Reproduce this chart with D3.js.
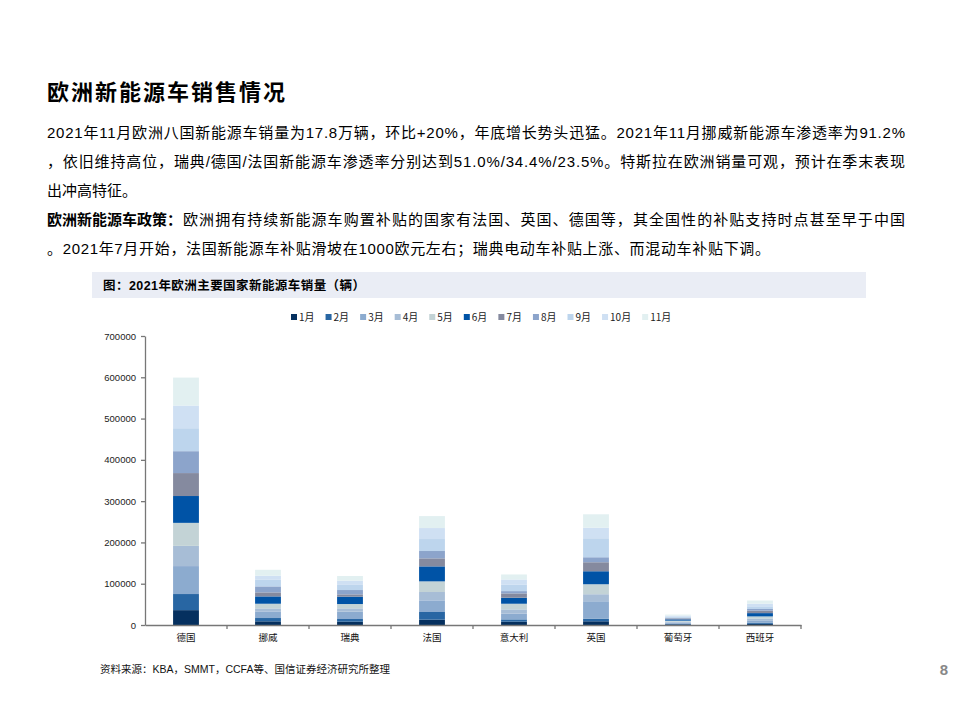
<!DOCTYPE html>
<html>
<head>
<meta charset="utf-8">
<script src="https://cdn.jsdelivr.net/npm/d3@7"></script>
<style>
  html, body { margin: 0; padding: 0; background: #fff; }
  svg { display: block; }
</style>
</head>
<body>
<div id="chart"></div>
<script>
// 国家（x 轴类目）
const countries = ['德国', '挪威', '瑞典', '法国', '意大利', '英国', '葡萄牙', '西班牙']
const months = ['1月', '2月', '3月', '4月', '5月', '6月', '7月', '8月', '9月', '10月', '11月']
const yTicks = [0, 100000, 200000, 300000, 400000, 500000, 600000, 700000]

// 每月销量（按国家顺序）
const m1  = [36000,  8900,  8000, 12900,  8000,  9000, 1600, 2800]
const m2  = [39000,  8000,  6500, 18600,  5600,  6500, 1400, 3000]
const m3  = [67700, 16000, 17800, 28200, 13700, 42000, 2600, 5500]
const m4  = [49000,  7300,  8000, 20200, 10500, 17000, 2300, 4500]
const m5  = [55700, 11300, 10500, 25800, 13700, 24200, 2600, 5000]
const m6  = [65000, 17800, 17800, 36300, 14500, 31500, 3200, 8000]
const m7  = [55600,  9700,  5600, 19400, 10500, 21800, 2200, 6000]
const m8  = [53000, 14500, 10500, 17800,  5600, 12100, 1800, 4000]
const m9  = [55600, 16000, 13700, 29000, 16100, 46000, 2700, 6500]
const m10 = [55000,  9700,  8900, 26600, 12100, 25800, 2300, 6500]
const m11 = [67700, 14500, 11300, 29000, 12100, 32300, 2500, 7500]
const monthSeries = [m1, m2, m3, m4, m5, m6, m7, m8, m9, m10, m11]

const colors = ['#05305f', '#2866a3', '#8cabcf', '#a7bdd6', '#c3d3d6', '#0053a6',
                '#858a9f', '#8ca4cb', '#bdd5ed', '#cfe0f3', '#e2f0f1']

const W = 959, H = 719
const sans = '"Liberation Sans", Arial, "Noto Sans CJK SC", sans-serif'
const cjk = '"Noto Sans CJK SC", "Liberation Sans", sans-serif'

const svg = d3.select('#chart').append('svg')
  .attr('width', W)
  .attr('height', H)

// Title
svg.append('text')
  .attr('x', 47).attr('y', 100)
  .attr('font-family', cjk)
  .attr('font-weight', 'bold')
  .attr('font-size', 22)
  .attr('letter-spacing', 2)
  .attr('fill', '#000')
  .text('欧洲新能源车销售情况')

// Body paragraph
const body = [
  { y: 138, t: '2021年11月欧洲八国新能源车销量为17.8万辆，环比+20%，年底增长势头迅猛。2021年11月挪威新能源车渗透率为91.2%', len: 858 },
  { y: 167, t: '，依旧维持高位，瑞典/德国/法国新能源车渗透率分别达到51.0%/34.4%/23.5%。特斯拉在欧洲销量可观，预计在季末表现', len: 858 },
  { y: 196, t: '出冲高特征。' },
  { y: 254, t: '。2021年7月开始，法国新能源车补贴滑坡在1000欧元左右；瑞典电动车补贴上涨、而混动车补贴下调。', len: 723 }
]
body.forEach(d => {
  const t = svg.append('text')
    .attr('x', 47).attr('y', d.y)
    .attr('font-family', sans)
    .attr('font-size', 15)
    .attr('fill', '#000')
    .text(d.t)
  if (d.len) t.attr('textLength', d.len).attr('lengthAdjust', 'spacing')
})
svg.append('text')
  .attr('x', 47).attr('y', 225)
  .attr('font-family', cjk)
  .attr('font-weight', 'bold')
  .attr('font-size', 15)
  .text('欧洲新能源车政策：')
svg.append('text')
  .attr('x', 183).attr('y', 225)
  .attr('font-family', sans)
  .attr('font-size', 15)
  .attr('textLength', 722)
  .attr('lengthAdjust', 'spacing')
  .text('欧洲拥有持续新能源车购置补贴的国家有法国、英国、德国等，其全国性的补贴支持时点甚至早于中国')

// Caption bar
svg.append('rect')
  .attr('x', 92).attr('y', 272)
  .attr('width', 774).attr('height', 26)
  .attr('fill', '#eaedf5')
svg.append('text')
  .attr('x', 103).attr('y', 290)
  .attr('font-family', sans)
  .attr('font-weight', 'bold')
  .attr('font-size', 12.5)
  .attr('textLength', 262)
  .attr('lengthAdjust', 'spacing')
  .attr('fill', '#000')
  .text('图：2021年欧洲主要国家新能源车销量（辆）')

// Chart area
const plotLeft = 145, plotRight = 801, plotTop = 336, plotBottom = 625

const x = d3.scaleBand()
  .domain(countries)
  .range([plotLeft, plotRight])
  .padding(0)

const y = d3.scaleLinear()
  .domain([0, 700000])
  .range([plotBottom, plotTop])

const stackData = countries.map((c, i) => {
  const row = { country: c }
  months.forEach((m, j) => { row[m] = monthSeries[j][i] })
  return row
})
const series = d3.stack().keys(months)(stackData)

const barW = x.bandwidth() * 0.315

svg.append('g')
  .selectAll('g')
  .data(series)
  .join('g')
    .attr('fill', (d, i) => colors[i])
  .selectAll('rect')
  .data(d => d)
  .join('rect')
    .attr('x', d => x(d.data.country) + (x.bandwidth() - barW) / 2)
    .attr('y', d => y(d[1]))
    .attr('width', barW)
    .attr('height', d => y(d[0]) - y(d[1]))

// Y axis
const yAxis = svg.append('g')
  .attr('transform', `translate(${plotLeft},0)`)
  .call(d3.axisLeft(y).tickValues(yTicks).tickFormat(d3.format('d')).tickSize(4).tickSizeOuter(0))
yAxis.selectAll('text')
  .attr('font-family', sans)
  .attr('font-size', 9.5)
  .attr('fill', '#222')
  .attr('x', -9)

// X axis
const xAxis = svg.append('g')
  .attr('transform', `translate(0,${plotBottom})`)
  .call(d3.axisBottom(x).tickSize(0).tickSizeOuter(0))
xAxis.selectAll('text')
  .attr('font-family', cjk)
  .attr('font-size', 9.5)
  .attr('fill', '#111')
  .attr('dy', 0)
  .attr('y', 16)
// Ticks between categories
xAxis.selectAll('.sep')
  .data(countries)
  .join('line')
    .attr('class', 'sep')
    .attr('x1', d => x(d) + x.bandwidth())
    .attr('x2', d => x(d) + x.bandwidth())
    .attr('y1', 0)
    .attr('y2', 4)

svg.selectAll('.domain').attr('stroke', '#777').attr('stroke-width', 1.3)
svg.selectAll('.tick line, .sep').attr('stroke', '#777').attr('stroke-width', 1.3)

// Legend
const legend = svg.append('g').attr('transform', 'translate(291,314)')
let lx = 0
months.forEach((m, i) => {
  const g = legend.append('g').attr('transform', `translate(${lx},0)`)
  g.append('rect')
    .attr('width', 6).attr('height', 6)
    .attr('fill', colors[i])
  const t = g.append('text')
    .attr('x', 8).attr('y', 7)
    .attr('font-family', cjk)
    .attr('font-size', 10)
    .attr('fill', '#222')
    .text(m)
  lx += 8 + t.node().getComputedTextLength() + 11
})

// Source
svg.append('text')
  .attr('x', 100).attr('y', 673)
  .attr('font-family', sans)
  .attr('font-size', 10.5)
  .attr('fill', '#111')
  .text('资料来源：KBA，SMMT，CCFA等、国信证券经济研究所整理')

// Page number
svg.append('text')
  .attr('x', 948).attr('y', 675)
  .attr('text-anchor', 'end')
  .attr('font-family', sans)
  .attr('font-weight', 'bold')
  .attr('font-size', 15)
  .attr('fill', '#888')
  .text('8')
</script>
</body>
</html>
